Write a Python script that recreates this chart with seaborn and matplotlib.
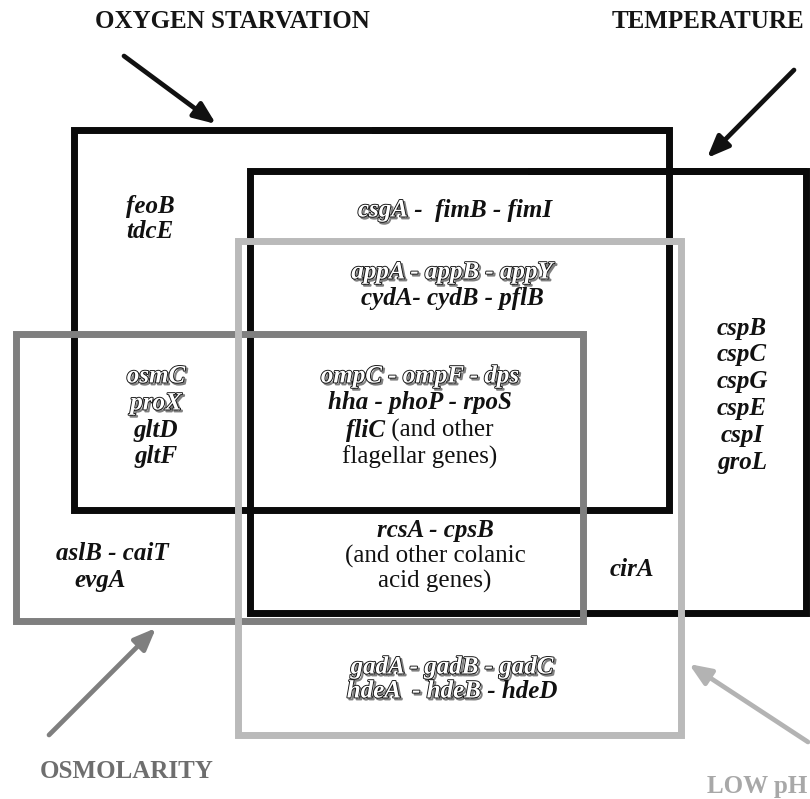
import matplotlib
matplotlib.use('Agg')
import matplotlib.pyplot as plt
import matplotlib.patheffects as pe
import seaborn as sns
import pandas as pd

# stress conditions drawn as overlapping boxes (pixel coordinates, y down)
boxes = ['OXYGEN STARVATION', 'TEMPERATURE', 'OSMOLARITY', 'LOW pH']
box_left = [74, 250, 16, 238]
box_top = [130, 171, 334, 241]
box_right = [669, 806, 583, 681]
box_bottom = [510, 613, 621, 735]
box_colors = ['#0a0a0a', '#0a0a0a', '#7f7f7f', '#bababa']

# gene groups, one list of lines per region; each line is a list of (text, style)
# style: 'o' outlined italic, 'i' bold italic, 'r' roman
oxygen_only = [[('feoB', 'i')], [('tdcE', 'i')]]
oxy_temp = [[('csgA', 'o'), (' -  fimB - fimI', 'i')]]
oxy_temp_ph = [[('appA - appB - appY', 'o')], [('cydA- cydB - pflB', 'i')]]
oxy_osmo = [[('osmC', 'o')], [('proX', 'o')], [('gltD', 'i')], [('gltF', 'i')]]
all_four = [[('ompC - ompF - dps', 'o')], [('hha - phoP - rpoS', 'i')],
            [('fliC', 'i'), (' (and other', 'r')], [('flagellar genes)', 'r')]]
temp_only = [[('cspB', 'i')], [('cspC', 'i')], [('cspG', 'i')],
             [('cspE', 'i')], [('cspI', 'i')], [('groL', 'i')]]
temp_osmo_ph = [[('rcsA - cpsB', 'i')], [('(and other colanic', 'r')], [('acid genes)', 'r')]]
osmo_only = [[('aslB - caiT', 'i')], [('evgA', 'i')]]
temp_ph = [[('cirA', 'i')]]
ph_only = [[('gadA - gadB - gadC', 'o')], [('hdeA  - hdeB', 'o'), (' - hdeD', 'i')]]

sns.set_theme(style="white")
plt.rcParams['font.family'] = ['Liberation Serif', 'DejaVu Serif']

fig = plt.figure(figsize=(8.1, 7.99), dpi=100)
ax = fig.add_axes([0, 0, 1, 1])
ax.set_xlim(0, 810)
ax.set_ylim(799, 0)
ax.axis('off')

rows = []
for name, l, t, r, b in zip(boxes, box_left, box_top, box_right, box_bottom):
    mid = (l + r) / 2
    for i, (x, y) in enumerate([(mid, t), (r, t), (r, b), (l, b), (l, t), (mid, t), (r, t)]):
        rows.append({'box': name, 'x': x, 'y': y, 'order': i})
df = pd.DataFrame(rows)
sns.lineplot(data=df, x='x', y='y', hue='box', units='box', estimator=None,
             sort=False, palette=dict(zip(boxes, box_colors)), hue_order=boxes,
             linewidth=5, solid_joinstyle='miter', solid_capstyle='butt',
             legend=False, ax=ax)
ax.set_xlabel('')
ax.set_ylabel('')
ax.set_xlim(0, 810)
ax.set_ylim(799, 0)

# condition labels and arrows
title_kw = dict(fontsize=18, fontweight='bold', va='center')
ax.text(95, 22, 'OXYGEN STARVATION', color='#151515', ha='left', **title_kw)
ax.text(612, 22, 'TEMPERATURE', color='#151515', ha='left', **title_kw)
ax.text(40, 772, 'OSMOLARITY', color='#6e6e6e', ha='left', **title_kw)
ax.text(807, 787, 'LOW pH', color='#a8a8a8', ha='right', **title_kw)

arrows = [((124, 56), (216, 124), '#111111'),
          ((794, 70), (707, 158), '#111111'),
          ((49, 735), (156, 628), '#7f7f7f'),
          ((808, 742), (689, 664), '#b3b3b3')]
for tail, head, col in arrows:
    ax.annotate('', xy=head, xytext=tail,
                arrowprops=dict(arrowstyle='-|>,head_length=1.1,head_width=0.45',
                                color=col, lw=3.4, shrinkA=0, shrinkB=0))

renderer = fig.canvas.get_renderer()
GENE_SIZE = 18


def piece(txt, style):
    kw = dict(fontsize=GENE_SIZE, va='center', ha='left')
    if style == 'r':
        return ax.text(0, 0, txt, color='#111111', **kw)
    t = ax.text(0, 0, txt, style='italic', fontweight='bold', color='#111111', **kw)
    if style == 'o':
        t.set_color('white')
        t.set_path_effects([pe.Stroke(linewidth=1.4, foreground='#808080', offset=(1.4, -1.4)),
                            pe.Stroke(linewidth=1.3, foreground='#111111'),
                            pe.Normal()])
    return t


def block(lines, xc, y0, step):
    for k, line in enumerate(lines):
        y = y0 + k * step
        objs = [piece(txt, st) for txt, st in line]
        widths = [o.get_window_extent(renderer).width for o in objs]
        x = xc - sum(widths) / 2
        for o, w in zip(objs, widths):
            o.set_position((x, y))
            x += w


block(oxygen_only, 150, 206, 25)
block(oxy_temp, 455, 210, 25)
block(oxy_temp_ph, 452, 272, 26)
block(oxy_osmo, 156, 376, 27)
block(all_four, 420, 376, 27)
block(temp_only, 742, 328, 26.8)
block(temp_osmo_ph, 435, 531, 25)
block([osmo_only[0]], 112, 553, 27)
block([osmo_only[1]], 100, 580, 27)
block(temp_ph, 632, 570, 25)
block(ph_only, 452, 667, 24)

fig.savefig('out.png', dpi=100, facecolor='white')
